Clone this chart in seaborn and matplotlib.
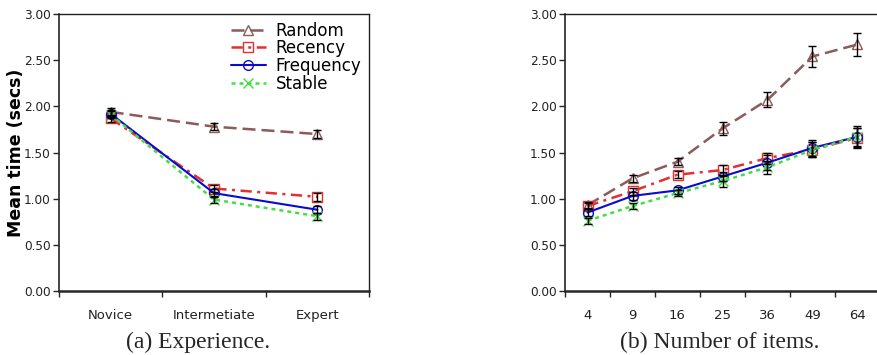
import matplotlib
matplotlib.use("Agg")
import matplotlib.pyplot as plt
import seaborn as sns
import numpy as np

sns.set_style("ticks")
plt.rcParams['font.family'] = ['DejaVu Sans']

series = ["Random", "Recency", "Frequency", "Stable"]

exp_labels = ["Novice", "Intermetiate", "Expert"]
exp_random = [1.94, 1.78, 1.70]
exp_recency = [1.87, 1.11, 1.02]
exp_frequency = [1.92, 1.06, 0.88]
exp_stable = [1.91, 0.99, 0.81]
exp_random_err = [0.04, 0.04, 0.04]
exp_recency_err = [0.04, 0.04, 0.04]
exp_frequency_err = [0.04, 0.04, 0.04]
exp_stable_err = [0.04, 0.04, 0.04]

items_labels = ["4", "9", "16", "25", "36", "49", "64"]
items_random = [0.93, 1.22, 1.40, 1.76, 2.07, 2.54, 2.67]
items_recency = [0.92, 1.08, 1.26, 1.31, 1.44, 1.53, 1.66]
items_frequency = [0.85, 1.03, 1.09, 1.24, 1.39, 1.55, 1.67]
items_stable = [0.76, 0.92, 1.06, 1.19, 1.34, 1.53, 1.67]
items_random_err = [0.03, 0.04, 0.04, 0.07, 0.08, 0.11, 0.12]
items_recency_err = [0.03, 0.04, 0.04, 0.05, 0.06, 0.08, 0.10]
items_frequency_err = [0.04, 0.04, 0.04, 0.05, 0.08, 0.09, 0.12]
items_stable_err = [0.03, 0.03, 0.03, 0.06, 0.07, 0.08, 0.10]

styles = {
    "Random": dict(color="#8c5a5a", marker="^", linestyle=(0, (5.2, 2.4)), lw=1.8),
    "Recency": dict(color="#e23030", marker="s", linestyle=(0, (4.5, 2.2, 1.2, 2.2)), lw=1.8),
    "Frequency": dict(color="#0a0ad0", marker="o", linestyle="-", lw=1.5),
    "Stable": dict(color="#44dd44", marker="x", linestyle=(0, (1.6, 1.6)), lw=1.8),
}

fig = plt.figure(figsize=(8.77, 3.55), dpi=100)
ax1 = fig.add_axes([59/877, 1-291/355, 310/877, 277/355])
ax2 = fig.add_axes([565/877, 1-291/355, 315/877, 277/355])


def draw(ax, labels, vals, errs):
    x = np.arange(len(labels))
    for name in series:
        st = styles[name]
        sns.lineplot(x=x, y=vals[name], ax=ax, color=st["color"], linestyle=st["linestyle"],
                     lw=st["lw"], marker=st["marker"], markersize=7,
                     markerfacecolor="none" if st["marker"] != "x" else st["color"],
                     markeredgecolor=st["color"], markeredgewidth=1.0, label=name)
    for name in series:
        ax.errorbar(x, vals[name], yerr=errs[name], fmt="none", ecolor="black",
                    elinewidth=1.0, capsize=3, capthick=1.0, zorder=5)
    ax.set_xlim(-0.5, len(labels) - 0.5)
    ax.set_ylim(0, 3)
    ax.set_yticks(np.arange(0, 3.01, 0.5))
    ax.set_yticklabels([f"{v:.2f}" for v in np.arange(0, 3.01, 0.5)], fontsize=8.7, color="#222222")
    ax.set_xticks(x)
    ax.set_xticklabels(labels, fontsize=9.5, color="#222222")
    ax.set_xticks(np.arange(-0.5, len(labels), 1.0), minor=True)
    ax.tick_params(axis="x", which="major", length=0, pad=13)
    ax.tick_params(axis="x", which="minor", length=4, width=1, direction="out")
    ax.tick_params(axis="y", length=4, width=1, direction="out", pad=2)
    for s in ["top", "right"]:
        ax.spines[s].set_visible(True)
        ax.spines[s].set_linewidth(1.0)
        ax.spines[s].set_color("#222222")
    ax.spines["bottom"].set_linewidth(1.8)
    ax.spines["left"].set_linewidth(1.2)
    ax.set_xlabel("")
    ax.set_ylabel("")


draw(ax1, exp_labels,
     {"Random": exp_random, "Recency": exp_recency, "Frequency": exp_frequency, "Stable": exp_stable},
     {"Random": exp_random_err, "Recency": exp_recency_err, "Frequency": exp_frequency_err, "Stable": exp_stable_err})
draw(ax2, items_labels,
     {"Random": items_random, "Recency": items_recency, "Frequency": items_frequency, "Stable": items_stable},
     {"Random": items_random_err, "Recency": items_recency_err, "Frequency": items_frequency_err, "Stable": items_stable_err})

if ax2.get_legend():
    ax2.get_legend().remove()
leg = ax1.legend(loc="upper right", bbox_to_anchor=(1.0, 1.0), frameon=False, fontsize=12,
                 handlelength=2.1, handletextpad=0.6, labelspacing=-0.02, borderpad=0.35,
                 borderaxespad=0.1)
for t in leg.get_texts():
    t.set_color("black")

ax1.set_ylabel("Mean time (secs)", fontsize=12.5, fontweight="bold", color="black")
ax1.yaxis.set_label_coords(-0.11, 0.5)

fig.text(198 / 877, 1 - 342/355, "(a) Experience.", ha="center", va="center",
         fontsize=17, family="Liberation Serif")
fig.text(720 / 877, 1 - 342/355, "(b) Number of items.", ha="center", va="center",
         fontsize=17, family="Liberation Serif")

fig.savefig("out.png", dpi=100)
